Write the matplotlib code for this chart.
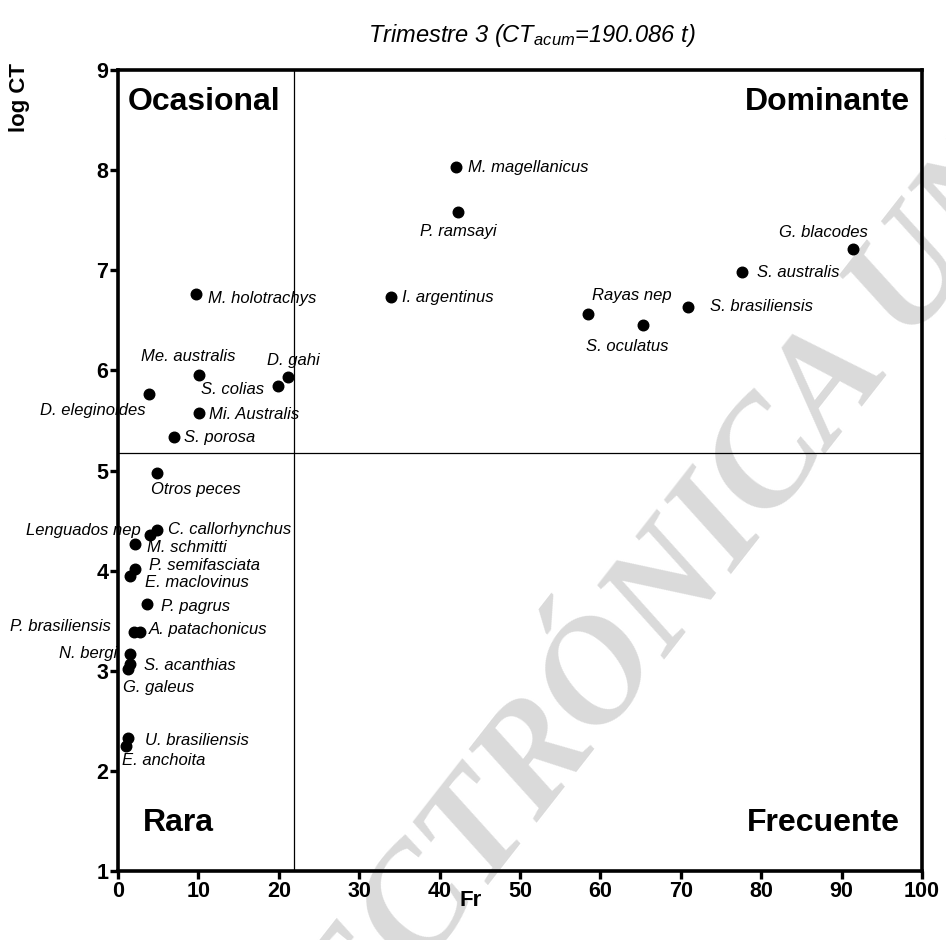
import matplotlib
matplotlib.use('Agg')
import matplotlib.pyplot as plt

plt.rcParams['font.family'] = ['Liberation Sans', 'DejaVu Sans']
plt.rcParams['mathtext.fontset'] = 'custom'
plt.rcParams['mathtext.rm'] = 'Liberation Sans'
plt.rcParams['mathtext.it'] = 'Liberation Sans:italic'

# species, Fr (%), log CT
species = ['M. magellanicus', 'P. ramsayi', 'I. argentinus', 'Rayas nep', 'S. oculatus',
           'S. brasiliensis', 'G. blacodes', 'S. australis', 'M. holotrachys', 'Me. australis',
           'D. gahi', 'S. colias', 'D. eleginoides', 'Mi. Australis', 'S. porosa',
           'Otros peces', 'C. callorhynchus', 'Lenguados nep', 'M. schmitti', 'P. semifasciata',
           'E. maclovinus', 'P. pagrus', 'A. patachonicus', 'P. brasiliensis', 'N. bergi',
           'S. acanthias', 'G. galeus', 'U. brasiliensis', 'E. anchoita']
fr = [42.1, 42.3, 33.9, 58.4, 65.3,
      70.9, 91.4, 77.6, 9.7, 10.1,
      21.1, 19.9, 3.8, 10.1, 7.0,
      4.8, 4.8, 4.0, 2.1, 2.1,
      1.5, 3.6, 2.7, 2.0, 1.5,
      1.5, 1.3, 1.3, 1.0]
logct = [8.03, 7.58, 6.73, 6.56, 6.45,
         6.63, 7.21, 6.98, 6.76, 5.95,
         5.93, 5.84, 5.76, 5.57, 5.33,
         4.98, 4.41, 4.36, 4.27, 4.02,
         3.95, 3.67, 3.39, 3.39, 3.17,
         3.07, 3.02, 2.33, 2.25]

# label placement: offset in pixels (dx, dy) and horizontal alignment
label_pos = {
    'M. magellanicus': (12, 0, 'left'),
    'P. ramsayi': (0, -19, 'center'),
    'I. argentinus': (11, 0, 'left'),
    'Rayas nep': (44, 19, 'center'),
    'S. oculatus': (-16, -21, 'center'),
    'S. brasiliensis': (22, 1, 'left'),
    'G. blacodes': (-29, 17, 'center'),
    'S. australis': (15, 0, 'left'),
    'M. holotrachys': (12, -4, 'left'),
    'Me. australis': (-11, 19, 'center'),
    'D. gahi': (6, 17, 'center'),
    'S. colias': (-14, -3, 'right'),
    'D. eleginoides': (-3, -16, 'right'),
    'Mi. Australis': (10, -1, 'left'),
    'S. porosa': (10, 0, 'left'),
    'Otros peces': (-6, -17, 'left'),
    'C. callorhynchus': (11, 0, 'left'),
    'Lenguados nep': (-9, 4, 'right'),
    'M. schmitti': (12, -4, 'left'),
    'P. semifasciata': (14, 3, 'left'),
    'E. maclovinus': (15, -7, 'left'),
    'P. pagrus': (14, -3, 'left'),
    'A. patachonicus': (9, 2, 'left'),
    'P. brasiliensis': (-23, 5, 'right'),
    'N. bergi': (-13, 0, 'right'),
    'S. acanthias': (14, -2, 'left'),
    'G. galeus': (-5, -19, 'left'),
    'U. brasiliensis': (17, -3, 'left'),
    'E. anchoita': (-4, -15, 'left'),
}

fr_cut = 21.9
ct_cut = 5.17

fig = plt.figure(figsize=(9.46, 9.40), dpi=100)
ax = fig.add_axes([0.1247, 0.0734, 0.8499, 0.8521])
ax.set_zorder(2)
ax.set_facecolor('none')

# watermark, behind the axes
fig.text(0.70, 0.356, 'ELECTRÓNICA UNIV', rotation=52, ha='center', va='center',
         fontsize=108, color='#dadada', family='Liberation Serif', fontweight='bold',
         style='italic', zorder=0)

ax.plot(fr, logct, 'o', color='black', markersize=7.6, zorder=3)
for name, x, y in zip(species, fr, logct):
    dx, dy, ha = label_pos[name]
    ax.annotate(name, (x, y), xytext=(dx, dy), textcoords='offset pixels',
                ha=ha, va='center', fontsize=12, style='italic', zorder=4,
                annotation_clip=False)

ax.axvline(fr_cut, color='black', linewidth=0.9, zorder=2)
ax.axhline(ct_cut, color='black', linewidth=0.9, zorder=2)

ax.text(0.012, 0.96, 'Ocasional', transform=ax.transAxes, ha='left', va='center',
        fontsize=23, fontweight='bold')
ax.text(0.985, 0.96, 'Dominante', transform=ax.transAxes, ha='right', va='center',
        fontsize=23, fontweight='bold')
ax.text(0.031, 0.06, 'Rara', transform=ax.transAxes, ha='left', va='center',
        fontsize=23, fontweight='bold')
ax.text(0.972, 0.06, 'Frecuente', transform=ax.transAxes, ha='right', va='center',
        fontsize=23, fontweight='bold')

ax.set_xlim(0, 100)
ax.set_ylim(1, 9)
ax.set_xticks(range(0, 101, 10))
ax.set_yticks(range(1, 10))
for s in ax.spines.values():
    s.set_linewidth(2.6)
ax.tick_params(axis='both', direction='out', length=6, width=2.4, labelsize=15.5, pad=1)
for lab in ax.get_xticklabels() + ax.get_yticklabels():
    lab.set_fontweight('bold')

fig.text(0.497, 0.042, 'Fr', ha='center', va='center', fontsize=16, fontweight='bold')
fig.text(0.021, 0.896, 'log CT', ha='center', va='center', rotation=90,
         fontsize=16, fontweight='bold')
fig.text(0.562, 0.962, r'Trimestre 3 (CT$_{\mathit{acum}}$=190.086 t)', ha='center',
         va='center', fontsize=17, style='italic')

fig.savefig('out.png', dpi=100)
